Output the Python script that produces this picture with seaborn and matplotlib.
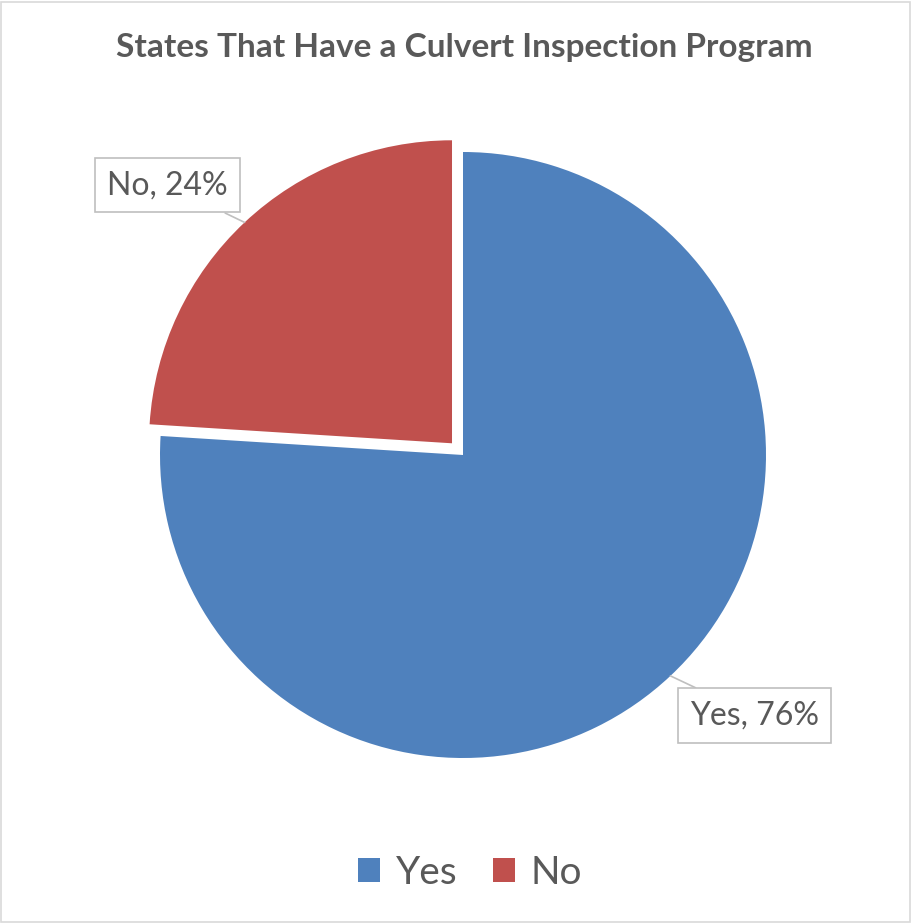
import numpy as np
import matplotlib
matplotlib.use("Agg")
import matplotlib.pyplot as plt
import seaborn as sns
from matplotlib.patches import Patch, Rectangle

labels = ["Yes", "No"]
shares = [76, 24]
colors = ["#4F81BD", "#C0504D"]
explode = [0, 0.053]
title = "States That Have a Culvert Inspection Program"

sns.set_theme(style="white")
plt.rcParams['font.family'] = ['Lato', 'DejaVu Sans']

fig = plt.figure(figsize=(9.11, 9.23), dpi=100)
fig.patch.set_facecolor("white")

# square axes, 1 data unit ~ 303 px, pie centre near (463, 455) px from top-left
L = 1.3
S = 2 * L * 303
cx, cy = 463, 923 - 455
ax = fig.add_axes([(cx - S / 2) / 911, (cy - S / 2) / 923, S / 911, S / 923])

wedges, _ = ax.pie(shares, colors=colors, explode=explode, startangle=90,
                   counterclock=False, radius=1.0,
                   wedgeprops=dict(linewidth=0))
ax.set_xlim(-L, L)
ax.set_ylim(-L, L)
ax.set_aspect("auto")
ax.axis("off")

# data labels with leader lines
text_offsets = {"Yes": (5.0, 1.29), "No": (4.4, 1.32)}
for w, lab, val, ex in zip(wedges, labels, shares, explode):
    mid = np.deg2rad((w.theta1 + w.theta2) / 2)
    ox, oy = ex * np.cos(mid), ex * np.sin(mid)
    edge = (ox + np.cos(mid), oy + np.sin(mid))
    dang, dist = text_offsets[lab]
    ang = mid + np.deg2rad(dang)
    txt = (dist * np.cos(ang), dist * np.sin(ang))
    ax.annotate(f"{lab}, {val}%", xy=edge, xytext=txt, ha="center", va="center",
                fontsize=23, color="#595959",
                bbox=dict(boxstyle="square,pad=0.38", fc="white", ec="#BFBFBF", lw=1.2),
                arrowprops=dict(arrowstyle="-", color="#BFBFBF", lw=1.2,
                                shrinkA=0, shrinkB=0))

fig.text(464 / 911, 1 - 47 / 923, title, ha="center", va="center",
         fontsize=24, fontweight="bold", color="#595959")

handles = [Patch(facecolor=c, edgecolor="none") for c in colors]
fig.legend(handles, labels, loc="center", bbox_to_anchor=(470 / 911, 1 - 873 / 923),
           ncol=2, frameon=False, fontsize=28, labelcolor="#595959",
           handlelength=0.57, handleheight=0.57, handletextpad=0.4, columnspacing=0.9)

fig.patches.append(Rectangle((0.001, 0.001), 0.998, 0.997, transform=fig.transFigure,
                             fill=False, ec="#D9D9D9", lw=1.2))

fig.savefig("out.png", dpi=100)
